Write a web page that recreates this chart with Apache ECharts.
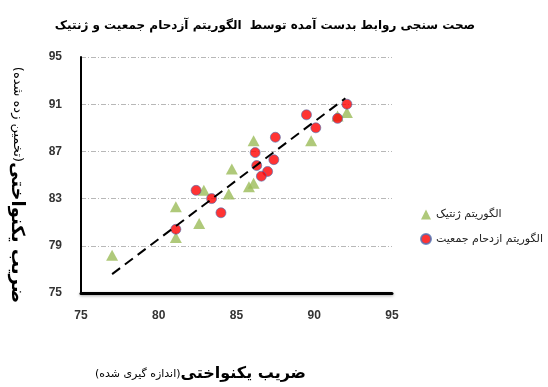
<!DOCTYPE html>
<html>
<head>
<meta charset="utf-8">
<script src="https://cdn.jsdelivr.net/npm/echarts@6/dist/echarts.min.js"></script>
<style>
  html, body { margin: 0; padding: 0; background: #fff; }
  #chart { width: 548px; height: 387px; }
</style>
</head>
<body>
<div id="chart"></div>
<script>
// Measured (x) vs. estimated (y) uniformity coefficient
const geneticPoints = [
  [92.1, 90.3], [91.5, 90.0], [89.8, 87.9], [86.1, 87.9], [84.7, 85.5],
  [86.1, 84.3], [85.8, 84.0], [82.9, 83.7], [84.5, 83.4], [81.1, 82.3],
  [82.6, 80.9], [81.1, 79.7], [77.0, 78.2]
];
const swarmPoints = [
  [92.1, 91.0], [91.5, 89.8], [89.5, 90.1], [90.1, 89.0], [87.5, 88.2],
  [86.2, 86.9], [87.4, 86.3], [86.3, 85.8], [87.0, 85.3], [86.6, 84.9],
  [82.4, 83.7], [83.4, 83.0], [84.0, 81.8], [81.1, 80.4]
];
// fitted trend line end points
const trendLine = [[77.0, 76.6], [92.0, 91.5]];

const seriesNames = ['الگوریتم ژنتیک', 'الگوریتم ازدحام جمعیت'];
const titleText = 'صحت سنجی روابط بدست آمده توسط  الگوریتم آزدحام جمعیت و ژنتیک';
const xTicks = { min: 75, max: 95, step: 5 };
const yTicks = { min: 75, max: 95, step: 4 };

const arabicFont = 'DejaVu Sans';
const numFont = 'Liberation Sans';

const chart = echarts.init(document.getElementById('chart'), null, { renderer: 'canvas' });
chart.setOption({
  animation: false,
  backgroundColor: '#ffffff',
  title: {
    text: titleText,
    left: 260,
    textAlign: 'center',
    top: 15,
    textStyle: { fontFamily: arabicFont, fontSize: 12, fontWeight: 'bold', color: '#000' }
  },
  legend: {
    orient: 'vertical',
    left: 415,
    top: 204,
    itemGap: 13,
    itemWidth: 10,
    itemHeight: 10,
    textStyle: { fontFamily: arabicFont, fontSize: 11, color: '#222' },
    data: [
      { name: seriesNames[0], icon: 'triangle' },
      { name: seriesNames[1], icon: 'circle' }
    ]
  },
  grid: { left: 81, right: 156, top: 57, bottom: 84 },
  xAxis: {
    type: 'value',
    min: xTicks.min, max: xTicks.max, interval: xTicks.step,
    axisLine: { show: true, lineStyle: { color: '#000', width: 3, shadowColor: 'rgba(0,0,0,0.35)', shadowBlur: 3, shadowOffsetY: 1 } },
    axisTick: { show: false },
    splitLine: { show: false },
    axisLabel: { margin: 17, fontFamily: numFont, fontSize: 12, fontWeight: 'bold', color: '#333' },
    name: '{s|(اندازه گیری شده)}{b|ضریب یکنواختی}',
    nameLocation: 'middle',
    nameGap: 73,
    nameTextStyle: {
      padding: [0, 72, 0, 0],
      rich: {
        b: { fontFamily: arabicFont, fontSize: 16, fontWeight: 'bold', color: '#000' },
        s: { fontFamily: arabicFont, fontSize: 11, color: '#000' }
      }
    }
  },
  yAxis: {
    type: 'value',
    min: yTicks.min, max: yTicks.max, interval: yTicks.step,
    axisLine: { show: true, lineStyle: { color: '#000', width: 2 } },
    axisTick: { show: false },
    splitLine: { show: true, lineStyle: { color: '#b8b8b8', width: 1, type: [5, 2, 1, 2] } },
    axisLabel: { margin: 19, fontFamily: numFont, fontSize: 12, fontWeight: 'bold', color: '#333' },
    name: '{s|(تخمین زده شده)}{b|ضریب یکنواختی}',
    nameLocation: 'middle',
    nameRotate: -90,
    nameGap: 55,
    nameTextStyle: {
      padding: [0, 0, 0, 20],
      rich: {
        b: { fontFamily: arabicFont, fontSize: 18, fontWeight: 'bold', color: '#000' },
        s: { fontFamily: arabicFont, fontSize: 13, color: '#000' }
      }
    }
  },
  series: [
    {
      name: seriesNames[0],
      type: 'scatter',
      symbol: 'triangle',
      symbolSize: [12, 11],
      itemStyle: { color: '#9bbb59' },
      data: geneticPoints,
      z: 3
    },
    {
      name: seriesNames[1],
      type: 'scatter',
      symbol: 'circle',
      symbolSize: 10,
      itemStyle: { color: '#ff0000', borderColor: '#4f6fb0', borderWidth: 0.8 },
      data: swarmPoints,
      z: 4
    },
    {
      name: 'trend',
      type: 'line',
      data: trendLine,
      symbol: 'none',
      lineStyle: { color: '#000', width: 2, type: [10, 6] },
      silent: true,
      z: 5
    }
  ]
});
</script>
</body>
</html>
